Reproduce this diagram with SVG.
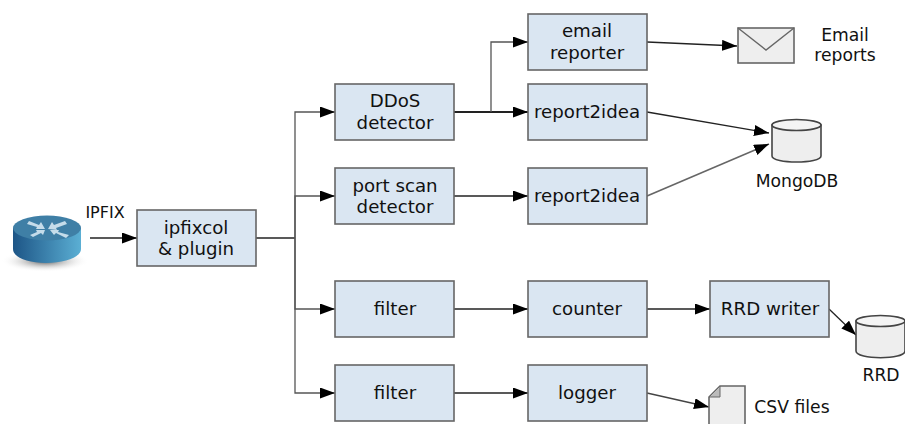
<svg xmlns="http://www.w3.org/2000/svg" width="905" height="424" viewBox="0 0 905 424">
<style>
text{font-family:"DejaVu Sans",sans-serif;font-size:18.2px;fill:#111;text-anchor:middle}
.b{fill:#dae6f2;stroke:#666;stroke-width:1.6}
.c{fill:none;stroke:#222;stroke-width:1.3}
.g{fill:#eee;stroke:#666;stroke-width:1.6}
.l{font-size:16px}
.m{font-size:17.2px}
.r{fill:#c5dcea}
</style>
<defs>
<marker id="a" markerUnits="userSpaceOnUse" markerWidth="16" markerHeight="12" refX="15" refY="5.500" orient="auto"><path d="M0 0L15 5.500L0 11Z" fill="#000"/></marker>
<linearGradient id="rs" x1="0" x2="1" y1="0" y2="0"><stop offset="0" stop-color="#1d5586"/><stop offset="1" stop-color="#5bafd4"/></linearGradient>
<radialGradient id="sh"><stop offset="0" stop-color="#555"/><stop offset="1" stop-color="#fff" stop-opacity="0"/></radialGradient>
</defs>
<g id="connectors">
<path class="c" marker-end="url(#a)" d="M90 238H137"/>
<path class="c" d="M256 238H295"/>
<path class="c" style="stroke:#555" marker-end="url(#a)" d="M295 238V112H335"/>
<path class="c" style="stroke:#555" marker-end="url(#a)" d="M295 238V196H335"/>
<path class="c" style="stroke:#555" marker-end="url(#a)" d="M295 238V309H335"/>
<path class="c" style="stroke:#555" marker-end="url(#a)" d="M295 238V393H335"/>
<path class="c" style="stroke-width:1.800" marker-end="url(#a)" d="M454 112H528"/>
<path class="c" style="stroke:#555" marker-end="url(#a)" d="M491 112V42H528"/>
<path class="c" marker-end="url(#a)" d="M454 196H528"/>
<path class="c" marker-end="url(#a)" d="M454 309H528"/>
<path class="c" marker-end="url(#a)" d="M454 393H528"/>
<path class="c" marker-end="url(#a)" d="M647 42L737 46"/>
<path class="c" marker-end="url(#a)" d="M647 112L769 133"/>
<path class="c" style="stroke:#666;stroke-width:1.600" marker-end="url(#a)" d="M647 196L769 144"/>
<path class="c" marker-end="url(#a)" d="M647 309H710"/>
<path class="c" marker-end="url(#a)" d="M829 309L856 335"/>
<path class="c" style="stroke:#444" marker-end="url(#a)" d="M647 393L709 407"/>
</g>
<g id="router">
<ellipse cx="45" cy="261" rx="44" ry="11" fill="url(#sh)"/>
<path d="M13 228V249C13 257 27 263 46 263S81 257 81 249V228Z" fill="url(#rs)"/>
<ellipse cx="47" cy="228" rx="34" ry="12.500" fill="#3f7fa6"/>
<path class="r" d="M27 224L29 221L39 225L41 222L45 229L36 229L37 227ZM65 221L67 224L56 228L57 230L48 229L52 222L54 225ZM30 235L33 237L41 233L43 235L45 230L36 230L37 232ZM69 235L66 238L56 233L54 235L50 230L59 230L58 232Z"/>
</g>
<text class="l" x="105" y="218">IPFIX</text>
<g id="ipfixcol"><rect class="b" x="137" y="210" width="119" height="56"/><text x="196" y="234">ipfixcol</text><text x="196" y="255">&amp; plugin</text></g>
<g id="ddos"><rect class="b" x="335" y="84" width="119" height="56"/><text x="395" y="107">DDoS</text><text x="395" y="128.500">detector</text></g>
<g id="portscan"><rect class="b" x="335" y="168" width="119" height="56"/><text x="395" y="191.500">port scan</text><text x="395" y="212.500">detector</text></g>
<g id="filter1"><rect class="b" x="335" y="281" width="119" height="56"/><text x="395" y="315">filter</text></g>
<g id="filter2"><rect class="b" x="335" y="365" width="119" height="56"/><text x="395" y="399">filter</text></g>
<g id="email"><rect class="b" x="528" y="14" width="119" height="56"/><text x="587" y="36.500">email</text><text x="587" y="58.500">reporter</text></g>
<g id="idea1"><rect class="b" x="528" y="84" width="119" height="56"/><text x="587" y="118">report2idea</text></g>
<g id="idea2"><rect class="b" x="528" y="168" width="119" height="56"/><text x="587" y="202">report2idea</text></g>
<g id="counter"><rect class="b" x="528" y="281" width="119" height="56"/><text x="587" y="315">counter</text></g>
<g id="logger"><rect class="b" x="528" y="365" width="119" height="56"/><text x="587" y="399">logger</text></g>
<g id="rrdwriter"><rect class="b" x="710" y="281" width="119" height="56"/><text x="770" y="315">RRD writer</text></g>
<g id="mail"><rect class="g" x="738" y="28" width="56" height="35"/><path d="M738 28L766 50L794 28" fill="none" stroke="#666" stroke-width="1.400"/></g>
<text class="m" x="845" y="41">Email</text><text class="m" x="845" y="61">reports</text>
<g id="mongodb"><path class="g" d="M772 125V156C772 164 821 164 821 156V125Z" style="stroke:#444"/><ellipse class="g" cx="796.500" cy="125" rx="24.500" ry="5.500" style="stroke:#444;fill:#f4f4f4"/><text class="m" x="797" y="187">MongoDB</text></g>
<g id="rrd"><path class="g" d="M856 321V351C856 360 905 360 905 351V321Z" style="stroke:#444"/><ellipse class="g" cx="880.500" cy="321" rx="24.500" ry="5.500" style="stroke:#444;fill:#f4f4f4"/><text class="m" x="881" y="381">RRD</text></g>
<g id="csv"><path class="g" d="M720 386H745V430H709V397Z"/><path d="M720 386V397H709Z" fill="#bbb" stroke="#666"/><text class="m" x="792" y="413">CSV files</text></g>
</svg>
